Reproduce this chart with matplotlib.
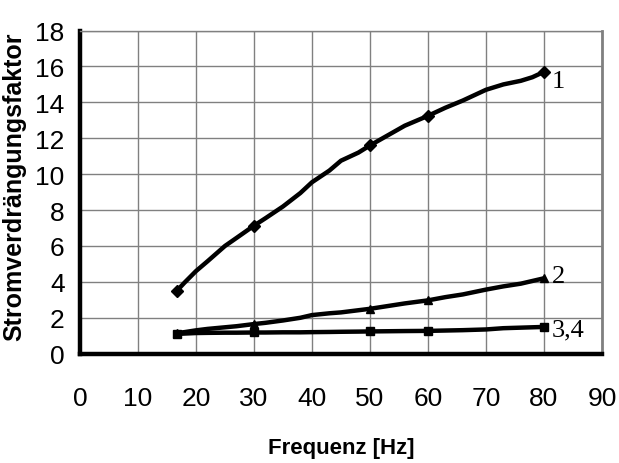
import matplotlib
matplotlib.use('Agg')
import matplotlib.pyplot as plt

# Frequency points [Hz] and current displacement factors
freq = [16.7, 18, 20, 22, 25, 27, 30, 32, 35, 38, 40, 43, 45, 48, 50, 53, 56, 60,
        63, 66, 70, 73, 76, 78, 80]
curve_1 = [3.5, 3.95, 4.6, 5.15, 6.0, 6.45, 7.13, 7.55, 8.2, 8.95, 9.55, 10.2, 10.75,
           11.2, 11.6, 12.15, 12.7, 13.25, 13.7, 14.1, 14.7, 15.0, 15.2, 15.4, 15.7]
curve_2 = [1.15, 1.2, 1.3, 1.38, 1.47, 1.53, 1.65, 1.72, 1.85, 2.0, 2.15, 2.25, 2.3,
           2.42, 2.5, 2.65, 2.8, 2.97, 3.15, 3.3, 3.57, 3.75, 3.9, 4.05, 4.2]
curve_34 = [1.1, 1.12, 1.15, 1.16, 1.17, 1.17, 1.18, 1.18, 1.19, 1.19, 1.2, 1.21, 1.22,
            1.23, 1.24, 1.25, 1.26, 1.27, 1.29, 1.31, 1.35, 1.42, 1.45, 1.47, 1.49]

marker_freq = [16.7, 30, 50, 60, 80]
curve_labels = ['1', '2', '3,4']
label_y = [15.2, 4.3, 1.35]

x_ticks = list(range(0, 91, 10))
y_ticks = list(range(0, 19, 2))

plt.rcParams['font.family'] = ['Liberation Sans', 'DejaVu Sans']

fig = plt.figure(figsize=(6.19, 4.64), dpi=100)
ax = fig.add_axes([0.1292, 0.2356, 0.8433, 0.6964])

series = [(curve_1, 'D'), (curve_2, '^'), (curve_34, 's')]
for values, marker in series:
    ax.plot(freq, values, color='black', linewidth=3.2, solid_capstyle='round',
            solid_joinstyle='round', zorder=3)
    mvals = [values[freq.index(f)] for f in marker_freq]
    ax.plot(marker_freq, mvals, linestyle='none', marker=marker, markersize=6,
            color='black', zorder=4)

# curve numbers next to the end points
for ly, label in zip(label_y, curve_labels):
    ax.text(freq[-1] + 1.3, ly, label, family='Liberation Serif',
            fontsize=19, va='center', ha='left', color='black')

ax.set_xlim(0, 90)
ax.set_ylim(0, 18)
ax.set_xticks(x_ticks)
ax.set_yticks(y_ticks)
ax.grid(True, color='#808080', linewidth=1.0)
ax.set_axisbelow(True)
ax.tick_params(length=0, labelsize=19)
ax.tick_params(axis='y', pad=11)
ax.tick_params(axis='x', pad=23)

for side in ('left', 'bottom'):
    ax.spines[side].set_linewidth(3.2)
    ax.spines[side].set_color('black')
ax.spines['top'].set_color('#808080')
ax.spines['top'].set_linewidth(1.0)
ax.spines['right'].set_color('#808080')
ax.spines['right'].set_linewidth(2.0)

ax.set_ylabel('Stromverdrängungsfaktor', fontsize=18, fontweight='bold')
ax.yaxis.set_label_coords(-0.103, 0.52)
ax.set_xlabel('Frequenz [Hz]', fontsize=16, fontweight='bold', labelpad=20)

fig.savefig('out.png', dpi=100, facecolor='white')
